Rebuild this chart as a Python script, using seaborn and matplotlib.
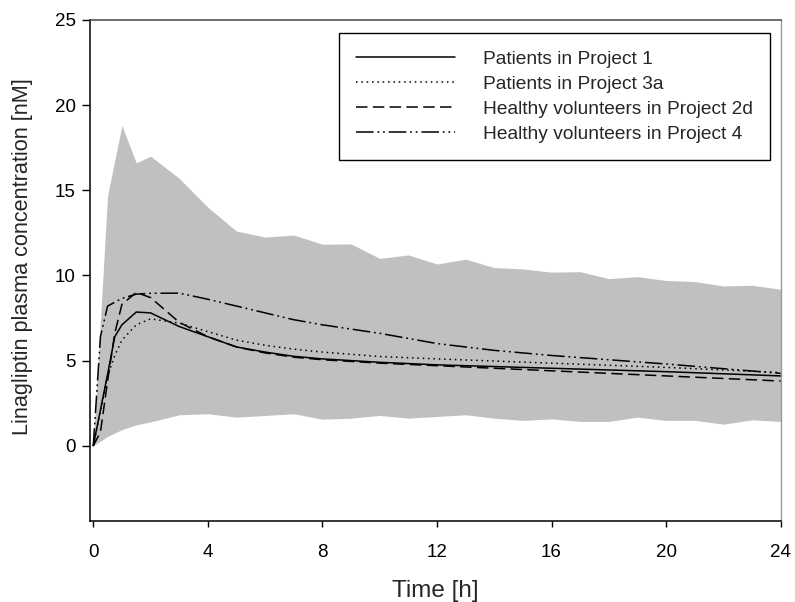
import matplotlib
matplotlib.use("Agg")
import matplotlib.pyplot as plt
import seaborn as sns
import pandas as pd
import numpy as np

# ---- data ----
band_t = [0, 0.5, 1, 1.5, 2, 3, 4, 5, 6, 7, 8, 9, 10, 11, 12, 13, 14, 15, 16, 17, 18, 19, 20, 21, 22, 23, 24]
band_upper = [0, 14.7, 18.8, 16.6, 17.0, 15.7, 14.0, 12.6, 12.25, 12.37, 11.83, 11.85, 11.0, 11.2, 10.67,
              10.95, 10.46, 10.38, 10.19, 10.22, 9.81, 9.93, 9.7, 9.64, 9.38, 9.42, 9.19]
band_lower = [0, 0.55, 0.95, 1.23, 1.4, 1.82, 1.88, 1.68, 1.78, 1.88, 1.56, 1.62, 1.78, 1.62, 1.72,
              1.82, 1.62, 1.49, 1.58, 1.43, 1.43, 1.68, 1.49, 1.49, 1.27, 1.52, 1.43]

p1_t = [0, 0.5, 0.75, 1, 1.5, 2, 3, 4, 5, 6, 7, 8, 10, 12, 16, 20, 24]
p1_v = [0, 4.2, 6.4, 7.1, 7.85, 7.8, 7.0, 6.4, 5.8, 5.5, 5.25, 5.1, 4.9, 4.75, 4.55, 4.35, 4.1]

p3a_t = [0, 0.25, 0.5, 0.75, 1, 1.5, 2, 3, 4, 5, 6, 7, 8, 10, 12, 16, 20, 24]
p3a_v = [0, 2.0, 4.1, 5.3, 6.2, 7.1, 7.45, 7.2, 6.7, 6.2, 5.9, 5.67, 5.5, 5.24, 5.1, 4.85, 4.6, 4.3]

p2d_t = [0, 0.25, 0.5, 0.75, 1, 1.5, 2, 3, 4, 5, 6, 7, 8, 10, 12, 16, 20, 24]
p2d_v = [0, 0.8, 3.8, 6.6, 8.3, 9.0, 8.7, 7.25, 6.4, 5.8, 5.45, 5.2, 5.05, 4.85, 4.7, 4.4, 4.1, 3.8]

p4_t = [0, 0.25, 0.5, 1, 1.5, 2, 3, 4, 5, 6, 7, 8, 10, 12, 14, 16, 20, 24]
p4_v = [0, 6.4, 8.2, 8.65, 8.9, 8.95, 8.96, 8.6, 8.2, 7.8, 7.4, 7.1, 6.6, 6.0, 5.6, 5.3, 4.8, 4.25]

labels = ["Patients in Project 1", "Patients in Project 3a",
          "Healthy volunteers in Project 2d", "Healthy volunteers in Project 4"]
x_ticks = [0, 4, 8, 12, 16, 20, 24]
y_ticks = [0, 5, 10, 15, 20, 25]

frames = []
for lab, t, v in zip(labels, [p1_t, p3a_t, p2d_t, p4_t], [p1_v, p3a_v, p2d_v, p4_v]):
    frames.append(pd.DataFrame({"Time": t, "Conc": v, "Group": lab}))
df = pd.concat(frames, ignore_index=True)

# ---- plot ----
sns.set_style("ticks")
plt.rcParams["font.family"] = ["Liberation Sans", "DejaVu Sans"]

fig = plt.figure(figsize=(7.95, 6.02), dpi=100)
ax = fig.add_axes([0.113, 0.135, 0.869, 0.832])

ax.fill_between(band_t, band_lower, band_upper, color="#c0c0c0", lw=0, zorder=1)

dashes = {
    labels[0]: "",
    labels[1]: (1, 2.5),
    labels[2]: (7.5, 3.5),
    labels[3]: (11.5, 2.5, 1.2, 2.5, 1.2, 2.5),
}
sns.lineplot(data=df, x="Time", y="Conc", style="Group", style_order=labels,
             dashes=dashes, color="black", linewidth=1.1, errorbar=None,
             estimator=None, sort=False, ax=ax, zorder=3)

ax.set_xlim(-0.12, 24)
ax.set_ylim(-4.4, 25)
ax.set_xticks(x_ticks)
ax.set_yticks(y_ticks)
ax.tick_params(axis="both", direction="out", width=1, labelsize=13.5,
               color="black", labelcolor="black")
ax.tick_params(axis="x", length=4.5, pad=12)
ax.tick_params(axis="y", length=6, pad=4)

for s in ["left", "bottom"]:
    ax.spines[s].set_color("black")
    ax.spines[s].set_linewidth(1.1)
ax.spines["top"].set_visible(True)
ax.spines["right"].set_visible(True)
ax.spines["top"].set_color("#444444")
ax.spines["right"].set_color("#999999")
ax.spines["top"].set_linewidth(1.1)
ax.spines["right"].set_linewidth(1.0)
for s in ax.spines.values():
    s.set_zorder(4)

ax.set_xlabel("Time [h]", fontsize=17.5)
ax.xaxis.label.set_va("center")
ax.xaxis.set_label_coords(0.5, -0.14)
ax.set_ylabel("Linagliptin plasma concentration [nM]", fontsize=15.6)
ax.yaxis.label.set_va("center")
ax.yaxis.label.set_ha("center")
ax.yaxis.set_label_coords(-0.098, 0.527)

handles, labs = ax.get_legend_handles_labels()
leg = ax.legend(handles, labs, loc="upper right", bbox_to_anchor=(0.984, 0.974),
                fontsize=13.8, frameon=True, fancybox=False, edgecolor="black",
                framealpha=1, handlelength=5.15, handletextpad=1.45,
                labelspacing=0.4, borderpad=0.9, borderaxespad=0)
leg.get_frame().set_linewidth(1.0)
for line in leg.get_lines():
    line.set_linewidth(1.1)

fig.savefig("out.png", dpi=100)
